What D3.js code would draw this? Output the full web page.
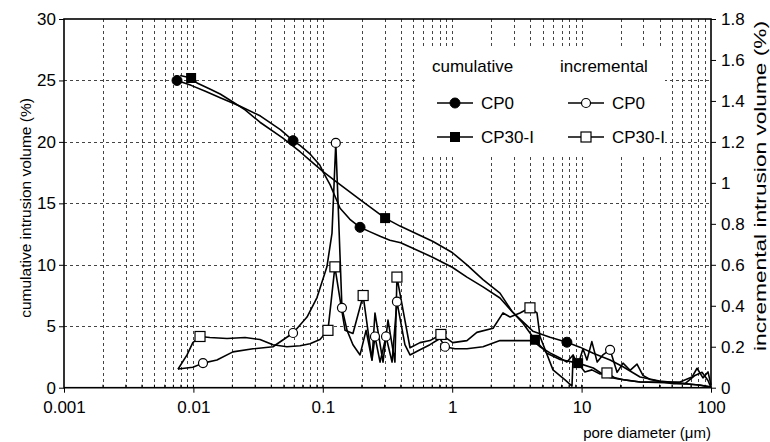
<!DOCTYPE html>
<html><head><meta charset="utf-8">
<script src="https://cdn.jsdelivr.net/npm/d3@7"></script>
<style>body{margin:0;background:#fff}svg{display:block;font-family:"Liberation Sans",Arial,sans-serif}</style>
</head><body><svg id="c" width="770" height="442"></svg>
<script>
// ---------- data ----------
const xTickValues = [0.001, 0.01, 0.1, 1, 10, 100];
const xTickLabels = ["0.001", "0.01", "0.1", "1", "10", "100"];
const yLeftTicks = [0, 5, 10, 15, 20, 25, 30];
const yRightTicks = [0, 0.2, 0.4, 0.6, 0.8, 1, 1.2, 1.4, 1.6, 1.8];
const yRightLabels = ["0", "0.2", "0.4", "0.6", "0.8", "1", "1.2", "1.4", "1.6", "1.8"];
const legendHeaders = ["cumulative", "incremental"];
const seriesNames = ["CP0", "CP30-I"];
const xTitle = "pore diameter (\u03bcm)";
const yLeftTitle = "cumulative intrusion volume (%)";
const yRightTitle = "incremental intrusion volume (%)";

// cumulative (left axis): [pore diameter µm, %]
const cumCP0 = [[0.00747,25.0],[0.0096,24.6],[0.0125,24.1],[0.0161,23.6],[0.023,22.9],[0.033,22.1],[0.047,21.0],[0.0589,20.1],[0.067,19.7],[0.08,19.0],[0.095,18.1],[0.1,17.6],[0.114,16.5],[0.124,15.6],[0.136,14.6],[0.162,13.7],[0.194,13.05],[0.23,12.7],[0.28,12.3],[0.33,12.0],[0.40,11.8],[0.711,10.6],[1.0,9.8],[1.30,9.0],[1.73,8.2],[2.34,7.3],[2.9,6.2],[4.2,4.6],[5.7,4.1],[7.7,3.7],[9.7,3.3],[12.3,2.8],[16.6,2.25],[20.9,1.7],[28.3,0.87],[40,0.55],[58,0.38],[82,0.2],[100,0.05]];
const cumCP30 = [[0.0079,25.4],[0.0096,25.2],[0.01067,24.8],[0.0134,24.3],[0.0161,23.9],[0.0202,23.25],[0.0251,22.6],[0.0327,21.6],[0.0492,20.3],[0.0667,19.2],[0.0796,18.5],[0.1,17.6],[0.129,16.7],[0.194,15.3],[0.303,13.8],[0.395,13.15],[0.711,11.9],[1.0,11.0],[1.30,10.0],[1.73,8.8],[2.34,7.7],[2.9,6.2],[3.52,5.25],[4.36,3.9],[5.40,2.8],[6.81,2.3],[9.4,2.0],[12.3,1.6],[15.7,0.87],[21.6,0.63],[28.3,0.46],[50.8,0.38],[82,0.22],[100,0.05]];
const cumCP0Markers = [[0.00747,25.0],[0.0589,20.1],[0.194,13.05],[7.7,3.7]];
const cumCP30Markers = [[0.0096,25.2],[0.303,13.8],[4.36,3.9],[9.4,2.0]];

// incremental (right axis): [pore diameter µm, %]
const incCP0 = [[0.0076,0.091],[0.0099,0.10],[0.01186,0.12],[0.0152,0.135],[0.0202,0.175],[0.0289,0.19],[0.0412,0.20],[0.0589,0.267],[0.0755,0.345],[0.0902,0.44],[0.1076,0.59],[0.1178,0.755],[0.126,1.195],[0.131,0.915],[0.1406,0.39],[0.154,0.28],[0.171,0.21],[0.194,0.16],[0.216,0.28],[0.240,0.135],[0.253,0.25],[0.277,0.125],[0.308,0.25],[0.343,0.125],[0.374,0.42],[0.431,0.21],[0.472,0.16],[0.564,0.185],[0.673,0.21],[0.805,0.24],[0.879,0.20],[1.05,0.19],[1.30,0.19],[1.73,0.20],[2.34,0.23],[3.34,0.23],[4.2,0.23],[4.77,0.20],[5.70,0.17],[6.81,0.145],[7.7,0.125],[8.59,0.16],[9.38,0.11],[10.25,0.19],[11.0,0.135],[12.0,0.225],[13.2,0.125],[14.6,0.16],[16.6,0.185],[18.8,0.075],[20.9,0.12],[23.7,0.085],[26.8,0.115],[29.8,0.06],[33.8,0.04],[40.4,0.03],[50.8,0.02],[63,0.02],[75.2,0.06],[85.2,0.075],[94.8,0.035],[100,0.0]];
const incCP30 = [[0.0076,0.09],[0.00893,0.16],[0.0099,0.22],[0.01125,0.25],[0.0134,0.245],[0.0182,0.24],[0.0251,0.245],[0.0327,0.235],[0.0412,0.21],[0.0528,0.20],[0.0667,0.205],[0.0796,0.215],[0.0951,0.235],[0.1096,0.28],[0.124,0.59],[0.136,0.43],[0.1486,0.28],[0.171,0.265],[0.205,0.45],[0.240,0.135],[0.253,0.365],[0.292,0.125],[0.319,0.33],[0.361,0.125],[0.374,0.54],[0.472,0.195],[0.564,0.22],[0.673,0.23],[0.818,0.26],[1.01,0.22],[1.30,0.23],[1.55,0.27],[2.07,0.29],[2.47,0.365],[2.80,0.345],[3.34,0.365],[3.99,0.39],[4.52,0.365],[4.77,0.25],[6.01,0.087],[7.45,0.038],[8.43,0.008],[8.59,0.15],[9.38,0.12],[10.6,0.077],[12.0,0.087],[13.9,0.067],[15.7,0.072],[18.1,0.048],[21.6,0.038],[28.3,0.028],[40.4,0.028],[57.6,0.028],[71.3,0.052],[78.0,0.095],[86.7,0.048],[94.8,0.077],[100,0.013]];
const incCP0Markers = [[0.01186,0.12],[0.0589,0.267],[0.126,1.195],[0.1406,0.39],[0.253,0.25],[0.308,0.25],[0.374,0.42],[0.879,0.20],[16.6,0.185]];
const incCP30Markers = [[0.01125,0.25],[0.1096,0.28],[0.124,0.59],[0.205,0.45],[0.374,0.54],[0.818,0.26],[3.99,0.39],[15.7,0.072]];

// ---------- layout ----------
const L = 64, R = 711, T = 19, B = 387.7;
const FONT = "Liberation Sans, Arial, sans-serif";
const svg = d3.select("#c");
const x = d3.scaleLog().domain([0.001, 100]).range([L, R]);
const yL = d3.scaleLinear().domain([0, 30]).range([B, T]);
const yR = d3.scaleLinear().domain([0, 1.8]).range([B, T]);

// grid
const minorX = [];
for (let e = -3; e <= 1; e++) for (let k = 1; k <= 9; k++) {
  const v = k * Math.pow(10, e);
  if (v > 0.001 && v < 100) minorX.push(v);
}
const grid = svg.append("g").attr("stroke", "#444").attr("stroke-width", 1).attr("stroke-dasharray", "3,3").attr("shape-rendering", "crispEdges");
grid.selectAll("line.v").data(minorX).join("line")
  .attr("x1", d => Math.round(x(d)) + 0.5).attr("x2", d => Math.round(x(d)) + 0.5)
  .attr("y1", T).attr("y2", B);
grid.selectAll("line.h").data(yLeftTicks.filter(d => d > 0 && d < 30)).join("line")
  .attr("x1", L).attr("x2", R)
  .attr("y1", d => Math.round(yL(d)) + 0.5).attr("y2", d => Math.round(yL(d)) + 0.5);

// axes
const styleTicks = g => g.selectAll("text").attr("fill", "#000").style("font-size", "17px").style("font-family", FONT);
const xAxis = d3.axisBottom(x).tickValues(xTickValues).tickFormat((d, i) => xTickLabels[i]).tickSize(5).tickPadding(8);
svg.append("g").attr("transform", `translate(0,${B})`).call(xAxis)
  .call(g => g.select(".domain").remove()).call(styleTicks);
svg.append("g").selectAll("line").data(minorX).join("line")
  .attr("x1", d => x(d)).attr("x2", d => x(d)).attr("y1", B).attr("y2", B - 3)
  .attr("stroke", "#000");
const yAxisL = d3.axisLeft(yL).tickValues(yLeftTicks).tickSize(5).tickPadding(3);
svg.append("g").attr("transform", `translate(${L},0)`).call(yAxisL)
  .call(g => g.select(".domain").remove()).call(styleTicks);
const yAxisR = d3.axisRight(yR).tickValues(yRightTicks).tickFormat((d, i) => yRightLabels[i]).tickSize(5).tickPadding(5);
svg.append("g").attr("transform", `translate(${R},0)`).call(yAxisR)
  .call(g => g.select(".domain").remove()).call(styleTicks);
// frame
svg.append("rect").attr("x", L).attr("y", T).attr("width", R - L).attr("height", B - T)
  .attr("fill", "none").attr("stroke", "#000").attr("stroke-width", 1.6);

// titles
svg.append("text").attr("transform", `translate(31,${(98 + 318) / 2}) rotate(-90)`)
  .attr("text-anchor", "middle").style("font-size", "15.5px").text(yLeftTitle);
svg.append("text").attr("transform", `translate(766,${(20 + 352) / 2}) rotate(-90)`)
  .attr("text-anchor", "middle").style("font-size", "16px")
  .attr("textLength", 330).attr("lengthAdjust", "spacingAndGlyphs").text(yRightTitle);
svg.append("text").attr("x", R).attr("y", 438).attr("text-anchor", "end")
  .style("font-size", "15px").text(xTitle);

// lines
const lineL = d3.line().x(d => x(d[0])).y(d => yL(d[1]));
const lineR = d3.line().x(d => x(d[0])).y(d => yR(d[1]));
const plot = svg.append("g").attr("fill", "none").attr("stroke", "#000").attr("stroke-width", 1.6).attr("stroke-linejoin", "round");
plot.append("path").attr("d", lineR(incCP0));
plot.append("path").attr("d", lineR(incCP30));
plot.append("path").attr("d", lineL(cumCP0));
plot.append("path").attr("d", lineL(cumCP30));

function marker(g, type, cx, cy) {
  if (type === "fc") g.append("circle").attr("cx", cx).attr("cy", cy).attr("r", 5).attr("fill", "#000").attr("stroke", "#000");
  if (type === "oc") g.append("circle").attr("cx", cx).attr("cy", cy).attr("r", 4.5).attr("fill", "#fff").attr("stroke", "#000").attr("stroke-width", 1.2);
  if (type === "fs") g.append("rect").attr("x", cx - 5).attr("y", cy - 5).attr("width", 10).attr("height", 10).attr("fill", "#000");
  if (type === "os") g.append("rect").attr("x", cx - 5).attr("y", cy - 5).attr("width", 10).attr("height", 10).attr("fill", "#fff").attr("stroke", "#000").attr("stroke-width", 1.2);
}
const mk = svg.append("g");
incCP0Markers.forEach(d => marker(mk, "oc", x(d[0]), yR(d[1])));
incCP30Markers.forEach(d => marker(mk, "os", x(d[0]), yR(d[1])));
cumCP0Markers.forEach(d => marker(mk, "fc", x(d[0]), yL(d[1])));
cumCP30Markers.forEach(d => marker(mk, "fs", x(d[0]), yL(d[1])));

// legend
const lg = svg.append("g");
lg.append("rect").attr("x", 415).attr("y", 47).attr("width", 250).attr("height", 110).attr("fill", "#fff");
lg.append("text").attr("x", 432).attr("y", 72).style("font-size", "17px").text(legendHeaders[0]);
lg.append("text").attr("x", 560).attr("y", 72).style("font-size", "17px").text(legendHeaders[1]);
const rows = [[437, 103, "fc", seriesNames[0]], [437, 137, "fs", seriesNames[1]], [568, 103, "oc", seriesNames[0]], [568, 137, "os", seriesNames[1]]];
rows.forEach(([lx, ly, t, name]) => {
  lg.append("line").attr("x1", lx).attr("x2", lx + 36).attr("y1", ly).attr("y2", ly).attr("stroke", "#000").attr("stroke-width", 1.5);
  marker(lg, t, lx + 18, ly);
  lg.append("text").attr("x", lx + 44).attr("y", ly + 6).style("font-size", "17px").text(name);
});
</script></body></html>
